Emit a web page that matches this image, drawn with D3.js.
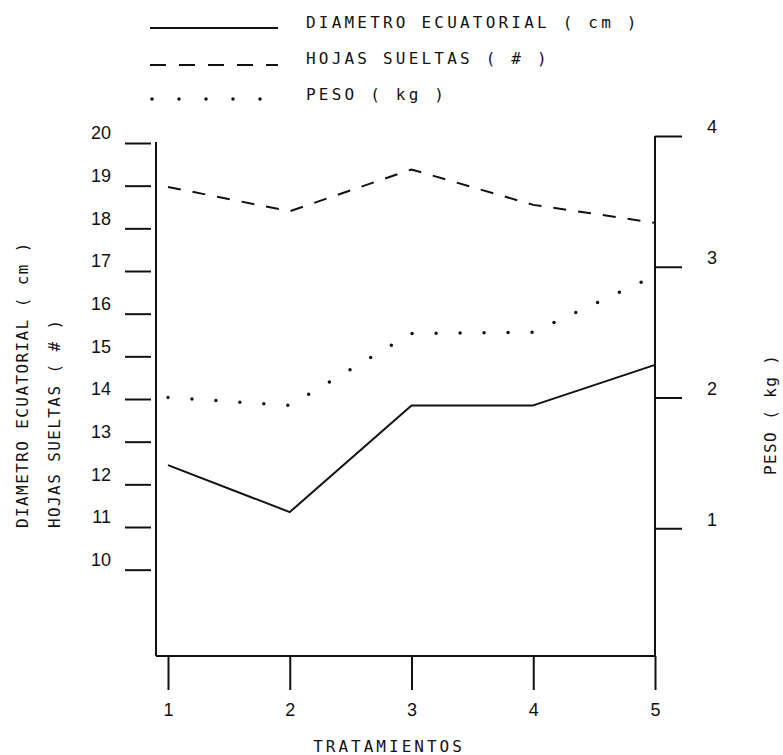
<!DOCTYPE html>
<html>
<head>
<meta charset="utf-8">
<script src="https://cdn.jsdelivr.net/npm/d3@7/dist/d3.min.js"></script>
<style>
  html, body { margin: 0; padding: 0; background: #fff; }
  svg { display: block; }
</style>
</head>
<body>
<svg id="chart" width="783" height="755"></svg>
<script>
// ---- data ----
const treatments = [1, 2, 3, 4, 5];
const diametro = [12.45, 11.35, 13.85, 13.85, 14.8];   // cm, left axis
const hojas = [18.97, 18.4, 19.38, 18.55, 18.13];       // #, left axis
const peso = [2.0, 1.94, 2.49, 2.5, 2.93];              // kg, right axis
const leftTicks = [10, 11, 12, 13, 14, 15, 16, 17, 18, 19, 20];
const rightTicks = [1, 2, 3, 4];
const legendLabels = ["DIAMETRO ECUATORIAL ( cm )", "HOJAS SUELTAS ( # )", "PESO ( kg )"];
const leftTitles = ["DIAMETRO ECUATORIAL ( cm )", "HOJAS SUELTAS ( # )"];
const rightTitle = "PESO ( kg )";
const xTitle = "TRATAMIENTOS";

// ---- layout ----
const svg = d3.select("#chart");
const ink = "#111";
const monoFont = "'DejaVu Sans Mono', monospace";
const numFont = "'Liberation Sans', Arial, sans-serif";

const xLeft = 156, xRight = 655, yBottom = 656;
const x = d3.scaleLinear().domain([1, 5]).range([168, 655]);
const yL = d3.scaleLinear().domain([8, 20]).range([655, 143]);
const yR = d3.scaleLinear().domain([0, 4]).range([659, 136]);

// ---- frame lines ----
svg.append("line").attr("x1", xLeft).attr("x2", xLeft).attr("y1", 142).attr("y2", yBottom)
  .attr("stroke", ink).attr("stroke-width", 2);
svg.append("line").attr("x1", xRight).attr("x2", xRight).attr("y1", 136).attr("y2", yBottom)
  .attr("stroke", ink).attr("stroke-width", 2);
svg.append("line").attr("x1", xLeft).attr("x2", xRight).attr("y1", yBottom).attr("y2", yBottom)
  .attr("stroke", ink).attr("stroke-width", 2);

// ---- left axis (ticks detached from the line) ----
const gL = svg.append("g").attr("transform", `translate(151,0)`)
  .call(d3.axisLeft(yL).tickValues(leftTicks).tickSize(26).tickPadding(14).tickFormat(d3.format("d")));
gL.select(".domain").remove();
gL.selectAll(".tick line").attr("stroke", ink).attr("stroke-width", 2);
gL.selectAll(".tick text").attr("y", -10).attr("fill", ink)
  .style("font-family", numFont).style("font-size", "18px");

// ---- right axis ----
const gR = svg.append("g").attr("transform", `translate(${xRight},0)`)
  .call(d3.axisRight(yR).tickValues(rightTicks).tickSize(27).tickPadding(25).tickFormat(d3.format("d")));
gR.select(".domain").remove();
gR.selectAll(".tick line").attr("stroke", ink).attr("stroke-width", 2);
gR.selectAll(".tick text").attr("y", -9).attr("fill", ink)
  .style("font-family", numFont).style("font-size", "18px");

// ---- bottom axis ----
const gB = svg.append("g").attr("transform", `translate(0,${yBottom})`)
  .call(d3.axisBottom(x).tickValues(treatments).tickSize(34).tickPadding(13).tickFormat(d3.format("d")));
gB.select(".domain").remove();
gB.selectAll(".tick line").attr("stroke", ink).attr("stroke-width", 2);
gB.selectAll(".tick text").attr("fill", ink)
  .style("font-family", numFont).style("font-size", "18px");

// ---- series ----
const lineL = d3.line().x((d, i) => x(treatments[i])).y(d => yL(d));
const lineR = d3.line().x((d, i) => x(treatments[i])).y(d => yR(d));

svg.append("path").datum(diametro).attr("d", lineL)
  .attr("fill", "none").attr("stroke", ink).attr("stroke-width", 2).attr("stroke-linejoin", "round");
svg.append("path").datum(hojas).attr("d", lineL)
  .attr("fill", "none").attr("stroke", ink).attr("stroke-width", 2)
  .attr("stroke-dasharray", "13,12");
svg.append("path").datum(peso).attr("d", lineR)
  .attr("fill", "none").attr("stroke", ink).attr("stroke-width", 3.5)
  .attr("stroke-linecap", "round").attr("stroke-dasharray", "0,24");

// ---- legend ----
const legendStyles = [
  { dash: null, width: 2, cap: "butt" },
  { dash: "16,13", width: 2, cap: "butt" },
  { dash: "0,27", width: 3.5, cap: "round" }
];
const legendY = [28, 65, 99];
const lg = svg.append("g");
legendLabels.forEach((lab, i) => {
  const st = legendStyles[i];
  const ln = lg.append("line")
    .attr("x1", i === 2 ? 152 : 150).attr("x2", 278)
    .attr("y1", legendY[i]).attr("y2", legendY[i])
    .attr("stroke", ink).attr("stroke-width", st.width).attr("stroke-linecap", st.cap);
  if (st.dash) ln.attr("stroke-dasharray", st.dash);
  lg.append("text").attr("x", 306).attr("y", [28, 63.5, 100][i])
    .attr("fill", ink).style("font-family", monoFont).style("font-size", "16px")
    .style("letter-spacing", "3.2px").text(lab);
});

// ---- axis titles ----
[28, 60].forEach((bx, i) => {
  svg.append("text").attr("transform", `translate(${bx},528) rotate(-90)`)
    .attr("fill", ink).style("font-family", monoFont).style("font-size", "16px")
    .style("letter-spacing", "1.4px").text(leftTitles[i]);
});
svg.append("text").attr("transform", `translate(776,475) rotate(-90)`)
  .attr("fill", ink).style("font-family", monoFont).style("font-size", "16px")
  .style("letter-spacing", "1.4px").text(rightTitle);
svg.append("text").attr("x", 389).attr("y", 752).attr("text-anchor", "middle")
  .attr("fill", ink).style("font-family", monoFont).style("font-size", "16px")
  .style("letter-spacing", "3px").text(xTitle);
</script>
</body>
</html>
